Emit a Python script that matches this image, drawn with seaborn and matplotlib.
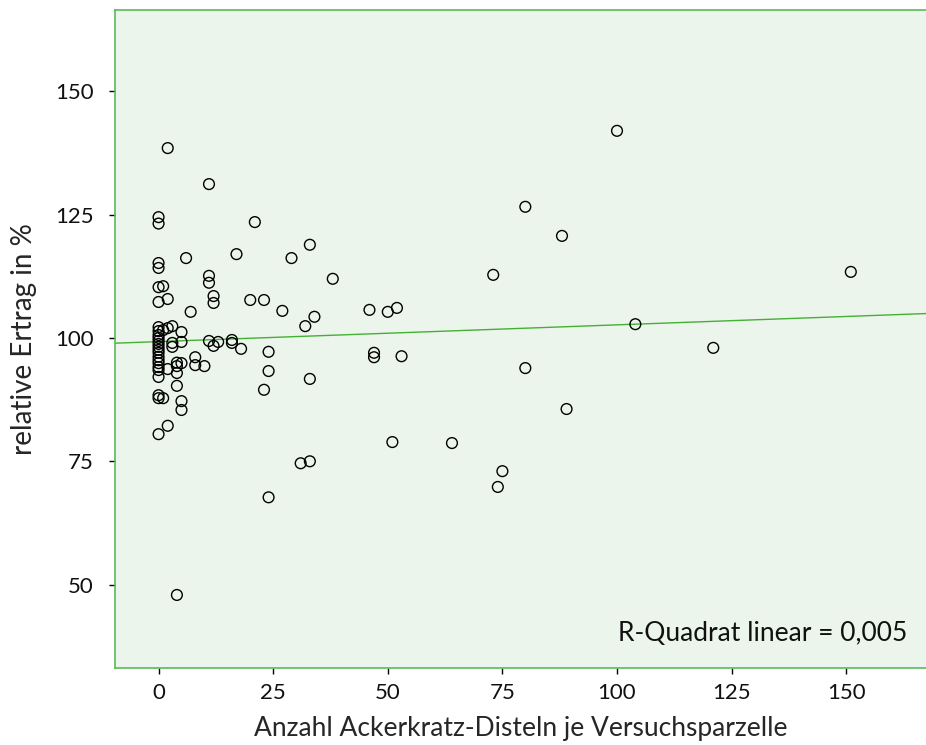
import numpy as np
import pandas as pd
import seaborn as sns
import matplotlib.pyplot as plt

# number of thistles per plot and relative yield (%)
disteln = [
    0, 0, 0, 0, 0, 0, 0, 0, 0, 0, 0, 0, 0, 0, 0, 0, 0, 0, 0, 0, 0, 0, 0, 0,
    1, 1, 1,
    2, 2, 2, 2, 2,
    3, 3, 3,
    4, 4, 4, 4, 4,
    5, 5, 5, 5, 5,
    6, 7, 8, 8, 10,
    11, 11, 11, 11,
    12, 12, 12,
    13, 16, 16, 17, 18, 20, 21,
    23, 23, 24, 24, 24,
    27, 29, 31, 32, 33, 33, 33, 34, 38,
    46, 47, 47, 50, 51, 52, 53, 64,
    73, 74, 75, 80, 80, 88, 89,
    100, 104, 121, 151,
]
ertrag = [
    124.5, 123.2, 115.2, 114.2, 110.3, 107.3, 102.2, 101.4, 100.6, 100.0,
    99.4, 98.8, 98.2, 97.6, 97.0, 96.2, 95.5, 94.9, 94.1, 93.5, 92.1,
    88.4, 87.8, 80.5,
    110.5, 101.6, 87.8,
    138.5, 107.9, 102.0, 93.7, 82.2,
    102.4, 99.0, 98.2,
    95.0, 94.3, 92.9, 90.3, 47.9,
    101.2, 99.2, 94.9, 87.2, 85.4,
    116.2, 105.3, 96.1, 94.5, 94.3,
    131.2, 112.6, 111.2, 99.4,
    108.5, 107.1, 98.4,
    99.2, 99.6, 99.0, 117.0, 97.8, 107.7, 123.5,
    107.7, 89.5, 97.2, 93.3, 67.7,
    105.5, 116.2, 74.6, 102.4, 118.9, 91.7, 75.0, 104.3, 112.0,
    105.7, 97.0, 96.1, 105.3, 78.9, 106.1, 96.3, 78.7,
    112.8, 69.8, 73.0, 126.6, 93.9, 120.7, 85.6,
    142.0, 102.8, 98.0, 113.4,
]
x_ticks = [0, 25, 50, 75, 100, 125, 150]
y_ticks = [50, 75, 100, 125, 150]
r2_text = "R-Quadrat linear = 0,005"

df = pd.DataFrame({"disteln": disteln, "ertrag": ertrag})

sns.set_theme(style="white")
plt.rcParams["font.family"] = ["Lato", "DejaVu Sans"]

fig = plt.figure(figsize=(9.26, 7.45), dpi=100)
ax = fig.add_axes([0.1242, 0.1034, 0.8758, 0.8832])
ax.set_facecolor("#ebf5eb")

xlim = (-9.5, 167.4)
ylim = (33.1, 166.5)
ax.set_xlim(xlim)
ax.set_ylim(ylim)

sns.scatterplot(data=df, x="disteln", y="ertrag", ax=ax, marker="o", s=60,
                facecolor="none", edgecolor="black", linewidth=1.0, zorder=3)
sns.regplot(data=df, x="disteln", y="ertrag", ax=ax, scatter=False, ci=None,
            truncate=False, line_kws={"color": "#45b035", "lw": 1.0, "zorder": 2})

ax.set_xlim(xlim)
ax.set_ylim(ylim)

ax.set_xticks(x_ticks)
ax.set_yticks(y_ticks)
ax.tick_params(axis="both", direction="out", length=4.5, width=1, color="black",
               labelsize=16, labelcolor="#111111", bottom=True, left=True)
ax.tick_params(axis="y", pad=11)
ax.tick_params(axis="x", pad=6)

for side in ["left", "top", "bottom"]:
    ax.spines[side].set_color("#5cb85c")
    ax.spines[side].set_linewidth(1.2)
ax.spines["right"].set_visible(False)

ax.set_xlabel("Anzahl Ackerkratz-Disteln je Versuchsparzelle", fontsize=19, labelpad=10)
ax.set_ylabel("relative Ertrag in %", fontsize=20, labelpad=13)

ax.text(0.977, 0.052, r2_text, transform=ax.transAxes, ha="right", va="center",
        fontsize=19, color="#111111")

fig.savefig("out.png", dpi=100)
